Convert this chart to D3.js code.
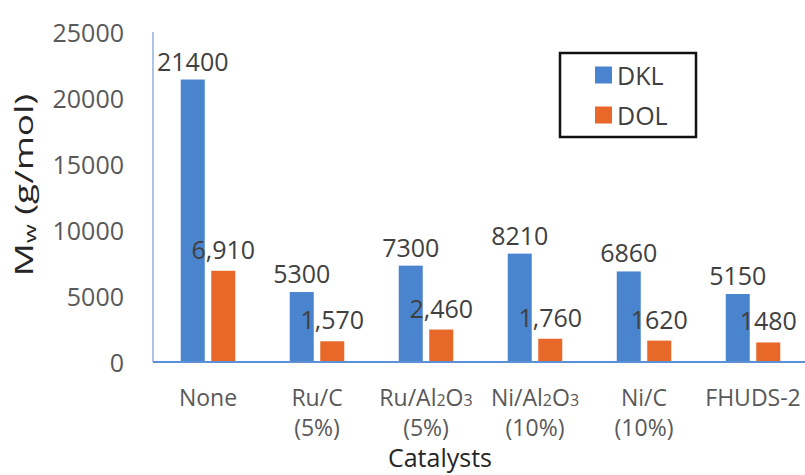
<!DOCTYPE html>
<html>
<head>
<meta charset="utf-8">
<script src="https://cdn.jsdelivr.net/npm/d3@7"></script>
<style>
  html, body { margin: 0; padding: 0; background: #fff; }
  svg { display: block; }
  text { font-family: "Open Sans", "Noto Sans", sans-serif; }
</style>
</head>
<body>
<svg id="chart" width="805" height="475"></svg>
<script>
// Weight-average molecular weight of lignin products by catalyst
const categories = ["None", "Ru/C (5%)", "Ru/Al2O3 (5%)", "Ni/Al2O3 (10%)", "Ni/C (10%)", "FHUDS-2"];
// Tick label lines; "_" marks a subscript digit
const categoryLines = [
  ["None"],
  ["Ru/C", "(5%)"],
  ["Ru/Al_2O_3", "(5%)"],
  ["Ni/Al_2O_3", "(10%)"],
  ["Ni/C", "(10%)"],
  ["FHUDS-2"]
];
const seriesNames = ["DKL", "DOL"];
const dklValues = [21400, 5300, 7300, 8210, 6860, 5150];
const dolValues = [6910, 1570, 2460, 1760, 1620, 1480];
const dklLabels = ["21400", "5300", "7300", "8210", "6860", "5150"];
const dolLabels = ["6,910", "1,570", "2,460", "1,760", "1620", "1480"];
const yTicks = [0, 5000, 10000, 15000, 20000, 25000];

const colors = { DKL: "#4a84cf", DOL: "#e8682a" };

const svg = d3.select("#chart");

const y = d3.scaleLinear().domain([0, 25000]).range([362, 32]);
const x0 = d3.scaleBand().domain(categories).range([153.5, 807.5]).padding(0);
const x1 = d3.scaleBand().domain(seriesNames).range([0, x0.bandwidth()])
  .paddingInner(0.213).paddingOuter(0.893);

const rows = categories.map((c, i) => ({
  cat: c,
  vals: [
    { s: "DKL", v: dklValues[i], label: dklLabels[i] },
    { s: "DOL", v: dolValues[i], label: dolLabels[i] }
  ]
}));

// Y axis: labels only, with a thin vertical rule
const yAxis = d3.axisLeft(y).tickValues(yTicks).tickSize(0).tickPadding(0).tickFormat(d3.format("d"));
const gy = svg.append("g").attr("transform", "translate(124,0)").call(yAxis);
gy.select(".domain").remove();
gy.selectAll("text")
  .attr("fill", "#595959")
  .style("font-size", "25px")
  .attr("dy", "0.36em");

svg.append("line")
  .attr("x1", 153).attr("x2", 153)
  .attr("y1", y(25000)).attr("y2", y(0))
  .attr("stroke", "#8fb2e2").attr("stroke-width", 1.5);

// Bars
const groups = svg.append("g").selectAll("g")
  .data(rows).join("g")
  .attr("transform", d => `translate(${x0(d.cat)},0)`);

groups.selectAll("rect")
  .data(d => d.vals).join("rect")
  .attr("x", d => x1(d.s))
  .attr("width", x1.bandwidth())
  .attr("y", d => y(d.v))
  .attr("height", d => y(0) - y(d.v))
  .attr("fill", d => colors[d.s]);

// Value labels above each bar
groups.selectAll("text.val")
  .data(d => d.vals).join("text")
  .attr("class", "val")
  .attr("x", d => x1(d.s) + x1.bandwidth() / 2)
  .attr("y", d => y(d.v) - (d.s === "DKL" ? 19 : 22))
  .attr("text-anchor", "middle")
  .attr("dominant-baseline", "central")
  .attr("fill", "#404040")
  .style("font-size", "25px")
  .text(d => d.label);

// X axis rule
svg.append("line")
  .attr("x1", 153).attr("x2", 805)
  .attr("y1", y(0)).attr("y2", y(0))
  .attr("stroke", "#5b8fd6").attr("stroke-width", 2);

// X axis category labels
const xAxis = d3.axisBottom(x0).tickSize(0).tickFormat("");
const gx = svg.append("g").attr("transform", `translate(0,${y(0)})`).call(xAxis);
gx.select(".domain").remove();
gx.selectAll(".tick").each(function (d, i) {
  const t = d3.select(this).append("text")
    .attr("text-anchor", "middle")
    .attr("fill", "#595959")
    .style("font-size", "23px");
  categoryLines[i].forEach((line, li) => {
    const lineY = 35 + li * 30;
    const parts = line.split(/(_\d)/).filter(p => p.length);
    parts.forEach((p, pi) => {
      const ts = t.append("tspan");
      if (pi === 0) ts.attr("x", 0).attr("y", lineY);
      if (p.startsWith("_")) {
        ts.text(p.slice(1)).style("font-size", "16px").attr("dy", 3);
      } else {
        if (pi > 0 && parts[pi - 1].startsWith("_")) ts.attr("dy", -3);
        ts.text(p);
      }
    });
  });
  t.attr("dominant-baseline", "central");
});

// Axis titles
const yTitle = svg.append("text")
  .attr("transform", "translate(22,185) rotate(-90) scale(1.42,1)")
  .attr("text-anchor", "middle")
  .attr("dominant-baseline", "central")
  .attr("fill", "#262626")
  .style("font-size", "26px");
yTitle.append("tspan").text("M");
yTitle.append("tspan").text("w").style("font-size", "17px").attr("dy", 7);
yTitle.append("tspan").text(" (g/mol)").attr("dy", -7);

svg.append("text")
  .attr("x", 440).attr("y", 467)
  .attr("text-anchor", "middle")
  .attr("fill", "#262626")
  .style("font-size", "25px")
  .text("Catalysts");

// Legend
const legend = svg.append("g");
legend.append("rect")
  .attr("x", 560).attr("y", 53).attr("width", 136).attr("height", 84)
  .attr("fill", "#fff").attr("stroke", "#111").attr("stroke-width", 2.5);
seriesNames.forEach((s, i) => {
  const cy = 75 + i * 40;
  legend.append("rect")
    .attr("x", 595).attr("y", cy - 8.5).attr("width", 17).attr("height", 17)
    .attr("fill", colors[s]);
  legend.append("text")
    .attr("x", 617).attr("y", cy)
    .attr("dominant-baseline", "central")
    .attr("fill", "#404040")
    .style("font-size", "25px")
    .text(s);
});
</script>
</body>
</html>
